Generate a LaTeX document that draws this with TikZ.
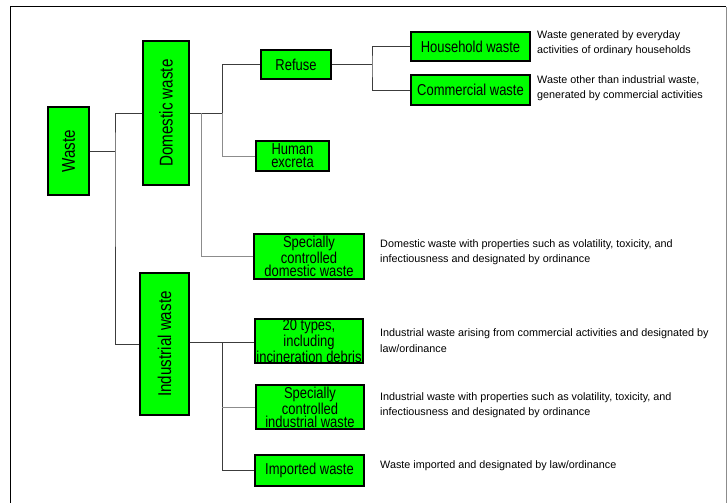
\documentclass[tikz,border=0pt]{standalone}
\usepackage{fontspec}
\usepackage{graphicx}
\setmainfont{Liberation Sans}
\newfontfamily\narrowfont[FakeStretch=0.82]{Liberation Sans}
\definecolor{boxgreen}{RGB}{0,255,0}
\definecolor{linedark}{RGB}{60,60,60}
\definecolor{linegrey}{RGB}{140,140,140}
\newcommand{\uptext}[1]{\rotatebox{90}{#1}}

\begin{document}
\begin{tikzpicture}[x=1pt,y=-1pt,
  box/.style={draw=black, line width=1.2pt, fill=boxgreen, inner sep=0pt,
    align=center, font=\narrowfont\fontsize{15.8}{13}\selectfont},
  vbox/.style={box, font=\narrowfont\fontsize{18.5}{20}\selectfont},
  desc/.style={anchor=west, align=left, inner sep=0pt,
    font=\fontsize{10.8}{15.5}\selectfont},
  link/.style={draw=linedark, line width=1pt},
  linklight/.style={draw=linegrey, line width=1pt}]

\useasboundingbox (0,0) rectangle (728,503);

% outer frame (open at the bottom)
\draw[black, line width=1pt] (10,503) -- (10,7) -- (726,7);
\draw[linegrey, line width=1pt] (726,7) -- (726,503);

% category boxes (upright text turned by a quarter)
\node[vbox, minimum width=41, minimum height=88] (waste) at (68.5,151) {\uptext{Waste}};
\node[vbox, minimum width=46, minimum height=144] (domestic) at (166,113) {\uptext{Domestic waste}};
\node[vbox, minimum width=49, minimum height=142] (industrial) at (164.5,344) {\uptext{Industrial waste}};

\node[box, minimum width=70, minimum height=29] (refuse) at (296,64.5) {Refuse};
\node[box, minimum width=119, minimum height=29] (household) at (470.5,46.5) {Household waste};
\node[box, minimum width=119, minimum height=30] (commercial) at (470.5,90) {Commercial waste};
\node[box, minimum width=73, minimum height=30] (human) at (292.5,156) {Human\\excreta};
\node[box, minimum width=110, minimum height=45] (specdom) at (309,256.5) {Specially\\controlled\\domestic waste};
\node[box, minimum width=108, minimum height=44] (twenty) at (309,341) {20 types,\\including\\incineration debris};
\node[box, minimum width=108, minimum height=44] (specind) at (310,407) {Specially\\controlled\\industrial waste};
\node[box, minimum width=109, minimum height=31] (imported) at (309.5,470.5) {Imported waste};

% junction points
\coordinate (jw) at (115,151);
\coordinate (jd) at (222,113);
\coordinate (jd2) at (201,113);
\coordinate (ji) at (222,342);
\coordinate (jr) at (372,64.5);

% connectors
\draw[link] (waste.east) -- (jw);
\draw[link] (domestic.west) -| (jw) |- (industrial.west);
\draw[link] (domestic.east) -- (jd) |- (refuse.west);
\draw[linklight] (jd) |- (human.west);
\draw[linklight] (jd2) |- (specdom.west);
\draw[link] (industrial.east |- ji) -- (twenty.west |- ji);
\draw[link] (ji) |- (imported.west);
\draw[linklight] (ji |- specind.west) -- (specind.west);
\draw[link] (refuse.east) -- (jr);
\draw[link] (household.west) -| (jr) |- (commercial.west);

% descriptions
\node[desc] (dhouse) at (537,43) {Waste generated by everyday\\activities of ordinary households};
\node[desc] (dcomm) at (537,88) {Waste other than industrial waste,\\generated by commercial activities};
\node[desc] (dspecdom) at (380,252) {Domestic waste with properties such as volatility, toxicity, and\\infectiousness and designated by ordinance};
\node[desc] (dtwenty) at (380,340.5) {Industrial waste arising from commercial activities and designated by\\law/ordinance};
\node[desc] (dspecind) at (380,405) {Industrial waste with properties such as volatility, toxicity, and\\infectiousness and designated by ordinance};
\node[desc] (dimport) at (380,466) {Waste imported and designated by law/ordinance};
\end{tikzpicture}
\end{document}
